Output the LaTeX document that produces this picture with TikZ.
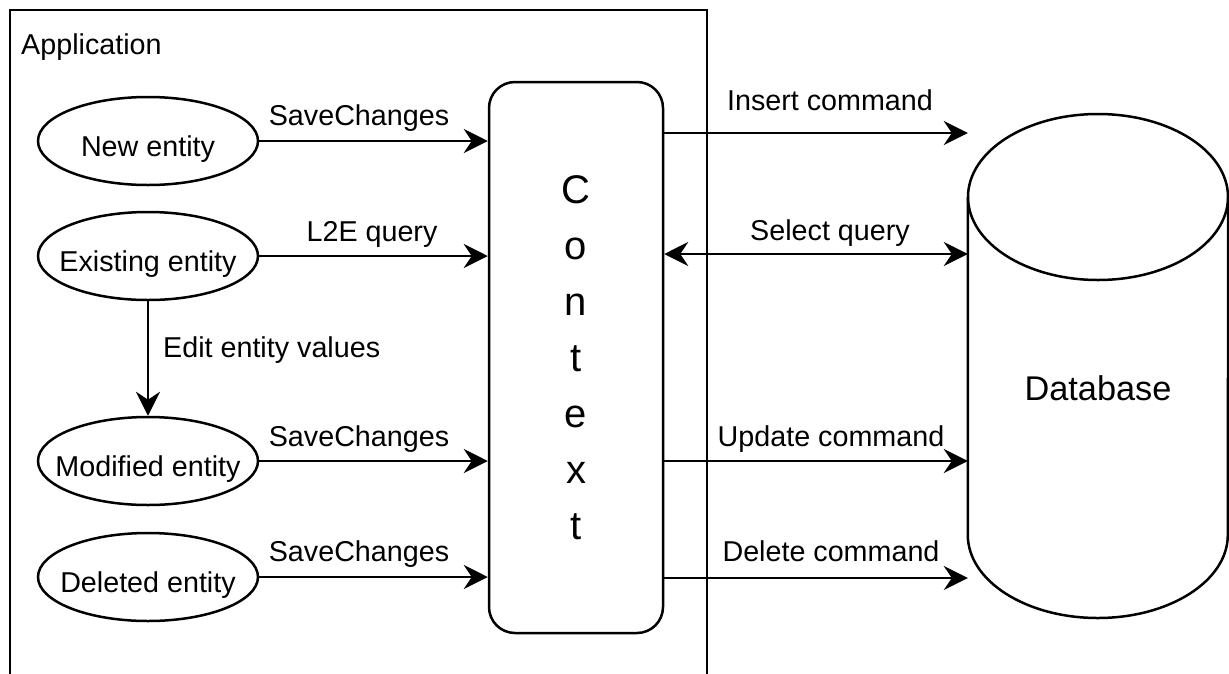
\documentclass[tikz,border=0pt]{standalone}
\usepackage{fontspec}
\setmainfont{Liberation Sans}
\usetikzlibrary{arrows.meta,shapes.geometric}

\begin{document}
\begin{tikzpicture}[x=1pt,y=-1pt,
  every node/.style={inner sep=0pt},
  lbl/.style={font=\fontsize{28.7}{34}\selectfont},
  entity/.style={draw, ellipse, line width=2.5pt, minimum width=220pt,
    minimum height=88pt, text height=30pt, text depth=0pt,
    font=\fontsize{28.7}{34}\selectfont},
  outline/.style={line width=2.5pt},
  link/.style={line width=2.5pt, -{Stealth[length=24pt,width=24pt,inset=8pt]}},
  biline/.style={line width=2.5pt,
    {Stealth[length=24pt,width=24pt,inset=8pt]}-{Stealth[length=24pt,width=24pt,inset=8pt]}}]

\useasboundingbox (0,0) rectangle (1229,673);
\fill[white] (0,0) rectangle (1229,673);

% application frame (open at the bottom edge)
\draw[outline] (10,676) -- (10,10) -- (707,10) -- (707,676);
\node[lbl, anchor=base west] (app) at (21,54) {Application};

% entity states
\node[entity] (new) at (148,141) {\makebox[0pt]{New entity}};
\node[entity] (existing) at (148,256) {\makebox[0pt]{Existing entity}};
\node[entity] (modified) at (148,461) {\makebox[0pt]{Modified entity}};
\node[entity] (deleted) at (148,577) {\makebox[0pt]{Deleted entity}};

% context
\node[draw, outline, rounded corners=26pt, minimum width=174pt, minimum height=551pt,
  align=center, font=\fontsize{40}{56}\selectfont] (ctx) at (576,357.5)
  {C\\o\\n\\t\\e\\x\\t};

% database cylinder
\node[minimum width=260pt, minimum height=504pt] (db) at (1098,366) {};
\coordinate (ytop) at (0,197);
\coordinate (ybot) at (0,535);
\draw[outline, fill=white] (db.west |- ytop) -- (db.west |- ybot)
  arc[start angle=180, end angle=360, x radius=130, y radius=-83]
  -- (db.east |- ytop);
\draw[outline] (1098,197) ellipse [x radius=130, y radius=83];
\node[font=\fontsize{34.3}{40}\selectfont, anchor=base] (dbl) at (1098,400) {Database};

% left side connectors
\draw[link] (new.east) -- (new.east -| ctx.west);
\node[lbl, anchor=base] (s1) at (359,125) {SaveChanges};
\draw[link] (existing.east) -- (existing.east -| ctx.west);
\node[lbl, anchor=base] (q1) at (372,241) {L2E query};
\draw[link] (existing.south) -- (modified.north);
\node[lbl, anchor=base west] (ed) at (163,357) {Edit entity values};
\draw[link] (modified.east) -- (modified.east -| ctx.west);
\node[lbl, anchor=base] (s2) at (359,446) {SaveChanges};
\draw[link] (deleted.east) -- (deleted.east -| ctx.west);
\node[lbl, anchor=base] (s3) at (359,561) {SaveChanges};

% right side connectors
\coordinate (yins) at (0,133);
\coordinate (ysel) at (0,254);
\coordinate (yupd) at (0,461);
\coordinate (ydel) at (0,578);
\draw[link] (ctx.east |- yins) -- (db.west |- yins);
\node[lbl, anchor=base] (c1) at (830,110) {Insert command};
\draw[biline] (ctx.east |- ysel) -- (db.west |- ysel);
\node[lbl, anchor=base] (c2) at (830,240) {Select query};
\draw[link] (ctx.east |- yupd) -- (db.west |- yupd);
\node[lbl, anchor=base] (c3) at (831,446) {Update command};
\draw[link] (ctx.east |- ydel) -- (db.west |- ydel);
\node[lbl, anchor=base] (c4) at (831,561) {Delete command};
\end{tikzpicture}
\end{document}
